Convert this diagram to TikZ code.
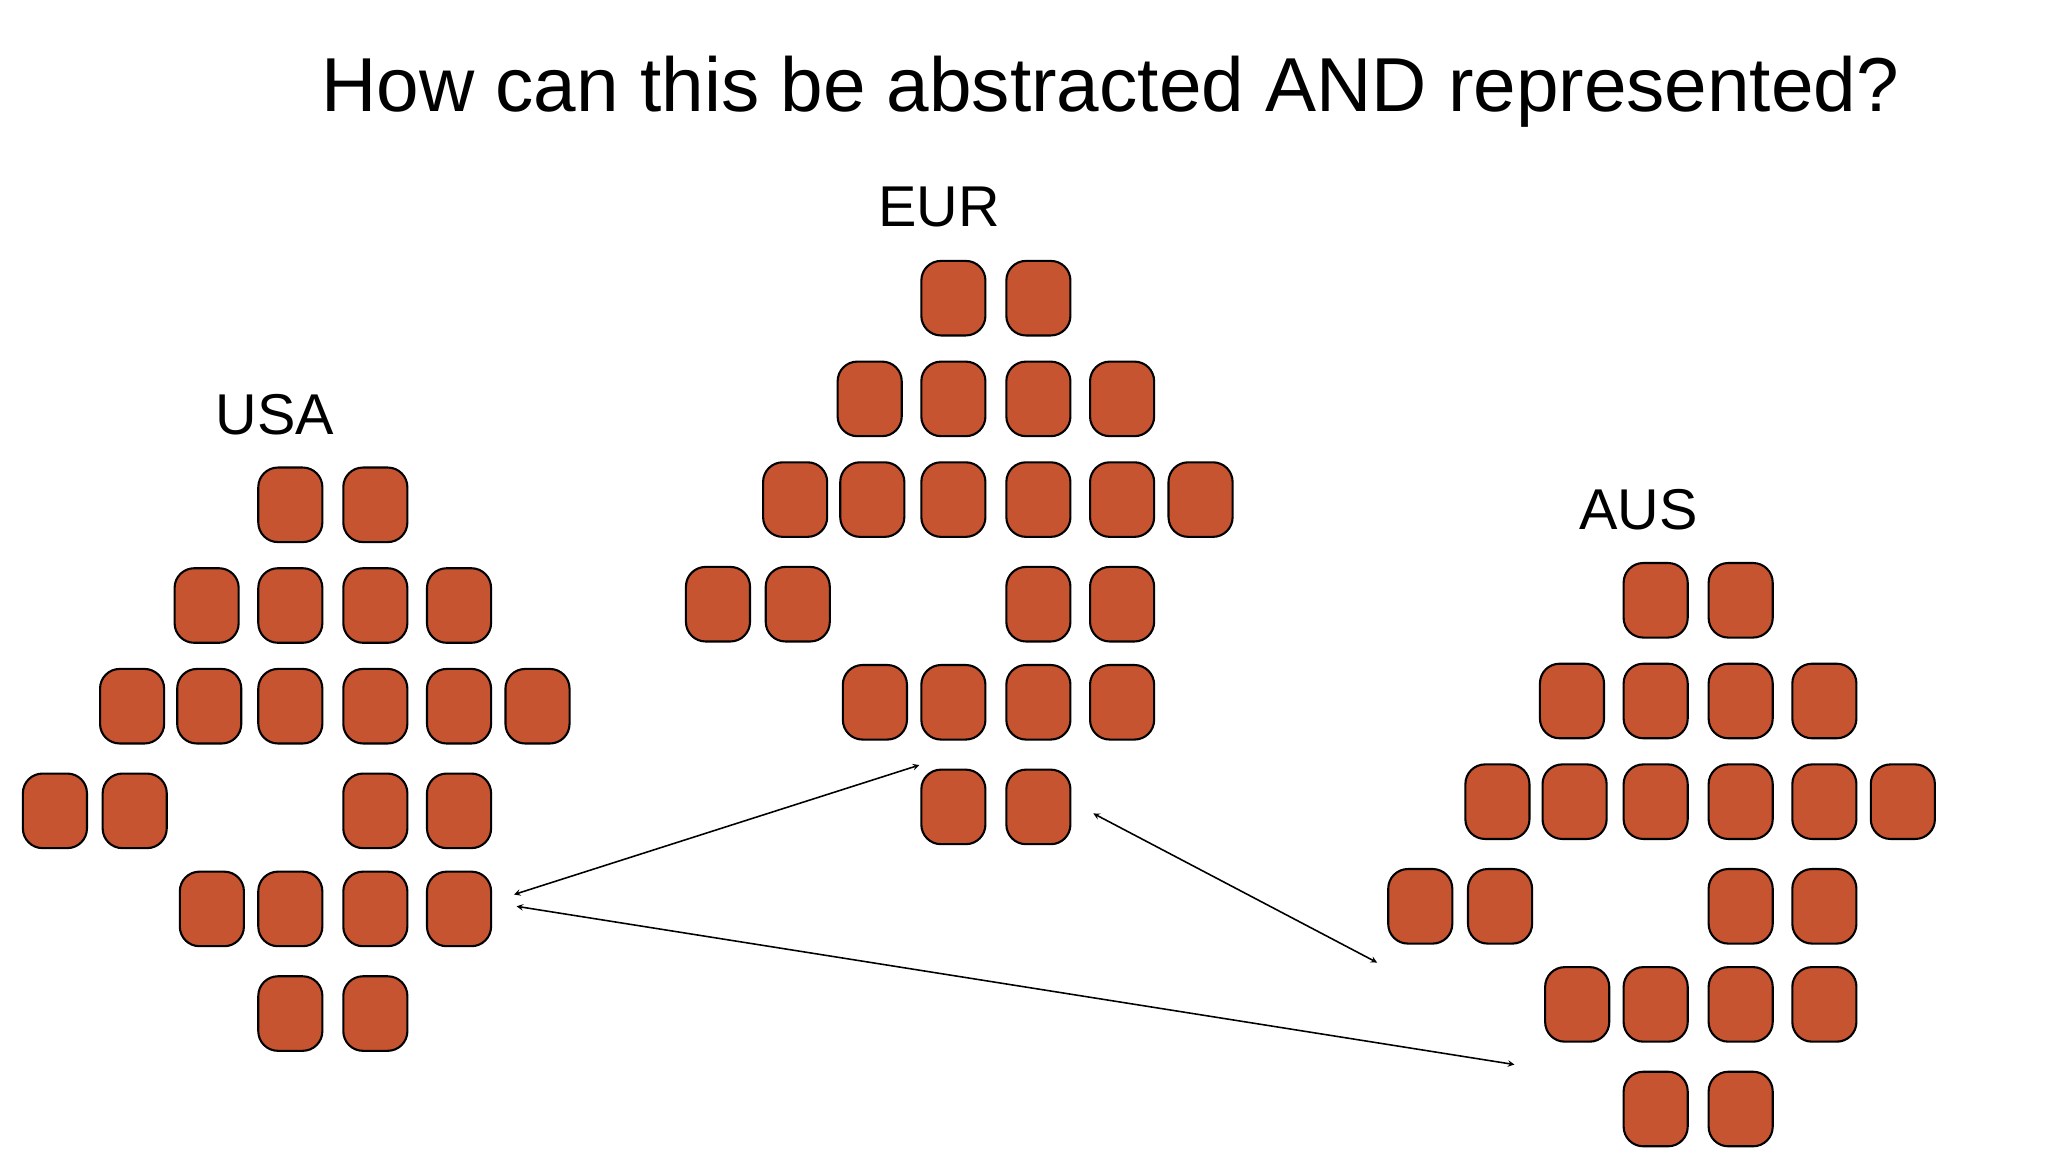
\documentclass[tikz,border=0pt]{standalone}
\usepackage{fontspec}
\setmainfont{Liberation Sans}
\definecolor{brick}{HTML}{C65431}
\begin{document}
\begin{tikzpicture}[x=1pt,y=-1pt,
  blk/.style={draw=black,line width=1.6pt,fill=brick,rounded corners=15pt,minimum width=49pt,minimum height=57pt,inner sep=0pt},
  lbl/.style={font=\fontsize{44}{50}\selectfont},
  conn/.style={<->,>=stealth,line width=1.2pt}]
\useasboundingbox (0,0) rectangle (1566,881);
\node[font=\fontsize{58.5}{66}\selectfont] (title) at (849,70) {How can this be abstracted AND represented?};
\foreach \g/\dx/\dy in {usa/0/0,eur/507/-158,aus/1044/73}{
  \begin{scope}[shift={(\dx,\dy)}]
  \foreach \x [count=\i] in {222,287} \node[blk] (\g-a\i) at (\x,386) {};
  \foreach \x [count=\i] in {158,222,287,351} \node[blk] (\g-b\i) at (\x,463) {};
  \foreach \x [count=\i] in {101,160,222,287,351,411} \node[blk] (\g-c\i) at (\x,540) {};
  \foreach \x [count=\i] in {42,103,287,351} \node[blk] (\g-d\i) at (\x,620) {};
  \foreach \x [count=\i] in {162,222,287,351} \node[blk] (\g-e\i) at (\x,695) {};
  \foreach \x [count=\i] in {222,287} \node[blk] (\g-f\i) at (\x,775) {};
  \end{scope}
}
\node[lbl] (usal) at (210,317) {USA};
\node[lbl] (eurl) at (718,158) {EUR};
\node[lbl] (ausl) at (1253,390) {AUS};
\coordinate (p1) at (393,684); \coordinate (p2) at (703,585);
\coordinate (p3) at (395,693); \coordinate (p4) at (1158,814);
\coordinate (p5) at (836,622); \coordinate (p6) at (1053,736);
\draw[conn] (p1) -- (p2);
\draw[conn] (p3) -- (p4);
\draw[conn] (p5) -- (p6);
\end{tikzpicture}
\end{document}
